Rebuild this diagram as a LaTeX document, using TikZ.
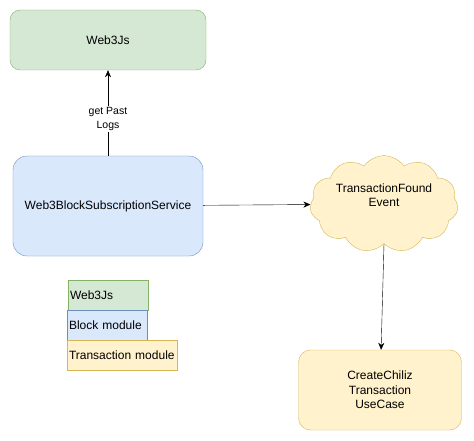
\documentclass[tikz,border=0pt]{standalone}
\usepackage{fontspec}
\setmainfont{Liberation Sans}
\usetikzlibrary{shapes.symbols,arrows.meta}
\definecolor{greenfill}{HTML}{D5E8D4}
\definecolor{greenline}{HTML}{82B366}
\definecolor{bluefill}{HTML}{DAE8FC}
\definecolor{blueline}{HTML}{6C8EBF}
\definecolor{yellowfill}{HTML}{FFF2CC}
\definecolor{yellowline}{HTML}{D6B656}
\begin{document}
\begin{tikzpicture}
[x=1pt,y=-1pt,
  boxdecorate/.style={shape=rectangle,rounded corners=10pt,draw,align=center,font=\fontsize{12}{14.5}\selectfont},%
  clouddecorate/.style={shape=cloud,cloud puffs=11,cloud puff arc=110,aspect=1.7,draw=yellowline,fill=yellowfill,align=center,minimum width=148pt,minimum height=86pt,inner sep=0pt,font=\fontsize{12}{14.5}\selectfont},%
  legenddecorate/.style={shape=rectangle,draw,align=left,inner xsep=2pt,minimum height=30pt,font=\fontsize{12}{14.5}\selectfont},%
  linedecorate/.style={-{Stealth[length=7pt,width=6pt]},thin}]
\useasboundingbox (0,0) rectangle (474,441);
% nodes or vertices
\node (web) at (108,40) [boxdecorate,fill=greenfill,draw=greenline,minimum width=196pt,minimum height=60pt] {Web3Js};
\node (service) at (108,206) [boxdecorate,fill=bluefill,draw=blueline,rounded corners=14pt,minimum width=190pt,minimum height=100pt] {Web3BlockSubscriptionService};
\node (event) at (384,204) [clouddecorate] {TransactionFound\\Event\\[3pt]};
\node (usecase) at (380,390) [boxdecorate,fill=yellowfill,draw=yellowline,rounded corners=12pt,minimum width=163pt,minimum height=80pt] {CreateChiliz\\Transaction\\UseCase};
% legend
\node (legweb) at (108,295) [legenddecorate,fill=greenfill,draw=greenline,text width=76pt] {Web3Js};
\node (legblock) at (107,325) [legenddecorate,fill=bluefill,draw=blueline,text width=76pt] {Block module};
\node (legtx) at (122,355) [legenddecorate,fill=yellowfill,draw=yellowline,text width=106pt] {Transaction module};
% edges or lines
\path
(service) edge[linedecorate] node[pos=0.43,fill=white,inner sep=1pt,align=center,font=\fontsize{10.5}{14}\selectfont] {get Past\\Logs} (web)
(service) edge[linedecorate] (event)
(event.south) edge[linedecorate] (usecase);
\end{tikzpicture}
\end{document}
